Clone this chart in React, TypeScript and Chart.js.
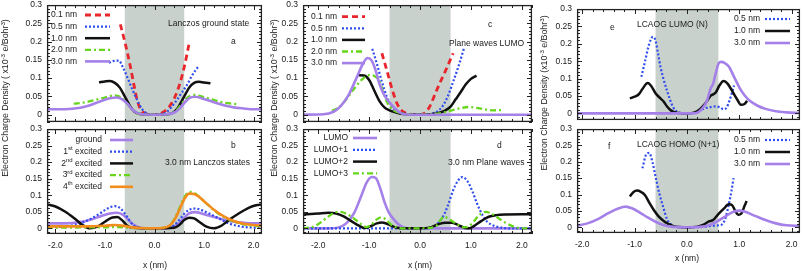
import React, { useEffect, useRef } from "react";
import { Chart, registerables } from "chart.js";
Chart.register(...registerables);

type Pt = [number, number];
const FONT = "'Liberation Sans', Arial, sans-serif";

// ---------- shared axis values ----------
const yTickValues = [0, 0.05, 0.1, 0.15, 0.2, 0.25, 0.3];
const yTickLabels = ["0", "0.05", "0.1", "0.15", "0.2", "0.25", "0.3"];
const xTickValues = [-2, -1, 0, 1, 2];
const xTickLabels = ["-2.0", "-1.0", "0.0", "1.0", "2.0"];
const shadeRange = [-0.6, 0.6];

// ---------- panel a : Lanczos ground state ----------
const aLabels = ["0.1 nm", "0.5 nm", "1.0 nm", "2.0 nm", "3.0 nm"];
const a01: Pt[] = [[-0.69, 0.247], [-0.6, 0.2], [-0.5, 0.14], [-0.42, 0.085], [-0.35, 0.04], [-0.27, 0.012], [-0.15, 0.002], [0, 0], [0.1, 0.002], [0.2, 0.009], [0.3, 0.022], [0.4, 0.045], [0.5, 0.08], [0.6, 0.13], [0.7, 0.196]];
const a05: Pt[] = [[-0.92, 0.142], [-0.82, 0.147], [-0.72, 0.148], [-0.64, 0.13], [-0.55, 0.103], [-0.45, 0.07], [-0.35, 0.04], [-0.25, 0.015], [-0.15, 0.003], [0, 0], [0.15, 0.002], [0.25, 0.008], [0.35, 0.022], [0.45, 0.04], [0.55, 0.06], [0.65, 0.08], [0.75, 0.105], [0.83, 0.122], [0.9, 0.133]];
const a10: Pt[] = [[-1.12, 0.089], [-1.0, 0.091], [-0.9, 0.092], [-0.8, 0.087], [-0.7, 0.074], [-0.6, 0.05], [-0.5, 0.025], [-0.42, 0.01], [-0.3, 0.002], [0, 0], [0.3, 0.002], [0.42, 0.01], [0.5, 0.025], [0.6, 0.05], [0.7, 0.074], [0.8, 0.087], [0.9, 0.09], [1.0, 0.088], [1.13, 0.086]];
const a20: Pt[] = [[-1.63, 0.03], [-1.4, 0.034], [-1.2, 0.04], [-1.0, 0.047], [-0.8, 0.053], [-0.65, 0.045], [-0.55, 0.03], [-0.45, 0.013], [-0.35, 0.004], [-0.2, 0.001], [0, 0], [0.2, 0.001], [0.35, 0.004], [0.45, 0.013], [0.55, 0.03], [0.65, 0.045], [0.8, 0.054], [1.0, 0.048], [1.2, 0.04], [1.4, 0.033], [1.66, 0.029]];
const a30: Pt[] = [[-2.17, 0.015], [-1.8, 0.015], [-1.5, 0.019], [-1.3, 0.026], [-1.1, 0.036], [-0.9, 0.045], [-0.76, 0.047], [-0.65, 0.042], [-0.55, 0.03], [-0.45, 0.014], [-0.35, 0.005], [-0.25, 0.001], [0, 0], [0.25, 0.001], [0.4, 0.006], [0.5, 0.016], [0.6, 0.032], [0.7, 0.045], [0.82, 0.049], [1.0, 0.043], [1.2, 0.034], [1.4, 0.026], [1.6, 0.02], [1.8, 0.017], [2.0, 0.015], [2.17, 0.015]];

// ---------- panel b : 3.0 nm Lanczos states ----------
const bLabels = ["ground", "1^st excited", "2^nd excited", "3^rd excited", "4^th excited"];
const bGround: Pt[] = a30;
const bExc1: Pt[] = [[-2.17, 0.003], [-1.8, 0.006], [-1.5, 0.015], [-1.3, 0.028], [-1.1, 0.045], [-0.95, 0.06], [-0.8, 0.067], [-0.7, 0.062], [-0.6, 0.045], [-0.5, 0.022], [-0.4, 0.007], [-0.3, 0.001], [0, 0], [0.3, 0.002], [0.4, 0.01], [0.5, 0.025], [0.6, 0.044], [0.7, 0.056], [0.82, 0.06], [0.95, 0.055], [1.1, 0.045], [1.3, 0.03], [1.5, 0.015], [1.7, 0.007], [1.9, 0.003], [2.17, 0.001]];
const bExc2: Pt[] = [[-2.17, 0.072], [-2.0, 0.066], [-1.8, 0.05], [-1.6, 0.028], [-1.45, 0.01], [-1.3, 0.0], [-1.15, 0.005], [-1.0, 0.02], [-0.85, 0.033], [-0.75, 0.034], [-0.65, 0.024], [-0.55, 0.008], [-0.45, 0.002], [0, 0], [0.4, 0.002], [0.5, 0.01], [0.6, 0.025], [0.7, 0.032], [0.8, 0.03], [0.9, 0.02], [1.05, 0.005], [1.2, 0.0], [1.35, 0.008], [1.5, 0.025], [1.7, 0.045], [1.9, 0.062], [2.05, 0.07], [2.17, 0.072]];
const bExc3: Pt[] = [[-2.17, 0.002], [-1.8, 0.002], [-1.4, 0.003], [-1.0, 0.003], [-0.8, 0.004], [-0.5, 0.002], [0, 0], [0.3, 0.008], [0.4, 0.028], [0.5, 0.06], [0.6, 0.093], [0.7, 0.11], [0.8, 0.107], [0.9, 0.096], [1.0, 0.082], [1.2, 0.055], [1.4, 0.034], [1.6, 0.02], [1.8, 0.012], [2.0, 0.008], [2.17, 0.006]];
const bExc4: Pt[] = [[-2.17, 0.006], [-1.8, 0.006], [-1.4, 0.006], [-1.0, 0.008], [-0.8, 0.01], [-0.6, 0.007], [-0.45, 0.003], [-0.3, 0.001], [0, 0], [0.15, 0.001], [0.3, 0.008], [0.4, 0.025], [0.5, 0.055], [0.6, 0.088], [0.7, 0.105], [0.8, 0.104], [0.9, 0.095], [1.0, 0.082], [1.2, 0.056], [1.4, 0.036], [1.6, 0.022], [1.8, 0.014], [2.0, 0.01], [2.17, 0.008]];

// ---------- panel c : Plane waves LUMO ----------
const cLabels = ["0.1 nm", "0.5 nm", "1.0 nm", "2.0 nm", "3.0 nm"];
const c01: Pt[] = [[-0.75, 0.168], [-0.65, 0.12], [-0.55, 0.07], [-0.45, 0.03], [-0.35, 0.01], [-0.25, 0.003], [0, 0], [0.1, 0.005], [0.2, 0.025], [0.3, 0.058], [0.4, 0.09], [0.5, 0.12], [0.65, 0.168]];
const c05: Pt[] = [[-0.94, 0.18], [-0.85, 0.14], [-0.75, 0.09], [-0.65, 0.048], [-0.55, 0.022], [-0.45, 0.01], [-0.3, 0.002], [0, 0], [0.2, 0.002], [0.35, 0.01], [0.45, 0.025], [0.55, 0.052], [0.65, 0.09], [0.75, 0.13], [0.86, 0.18]];
const c10: Pt[] = [[-1.21, 0.108], [-1.1, 0.107], [-1.0, 0.095], [-0.9, 0.066], [-0.8, 0.038], [-0.7, 0.02], [-0.6, 0.012], [-0.5, 0.007], [-0.4, 0.003], [-0.2, 0.001], [0, 0], [0.2, 0.001], [0.35, 0.004], [0.5, 0.012], [0.6, 0.022], [0.7, 0.042], [0.8, 0.062], [0.9, 0.083], [1.0, 0.098], [1.11, 0.107]];
const c20: Pt[] = [[-1.73, 0.011], [-1.6, 0.02], [-1.45, 0.042], [-1.3, 0.07], [-1.15, 0.095], [-1.0, 0.108], [-0.9, 0.106], [-0.8, 0.092], [-0.72, 0.06], [-0.65, 0.035], [-0.55, 0.015], [-0.4, 0.005], [-0.2, 0.001], [0, 0], [0.3, 0.002], [0.5, 0.007], [0.65, 0.013], [0.8, 0.018], [0.95, 0.021], [1.1, 0.019], [1.3, 0.014], [1.45, 0.012], [1.63, 0.013]];
const c30: Pt[] = [[-2.3, 0], [-1.9, 0.001], [-1.7, 0.008], [-1.55, 0.025], [-1.4, 0.055], [-1.25, 0.1], [-1.12, 0.14], [-1.03, 0.155], [-0.95, 0.148], [-0.87, 0.12], [-0.8, 0.085], [-0.72, 0.058], [-0.65, 0.042], [-0.58, 0.03], [-0.5, 0.018], [-0.4, 0.006], [-0.3, 0.001], [-0.15, 0], [2.2, 0]];

// ---------- panel d : 3.0 nm Plane waves ----------
const dLabels = ["LUMO", "LUMO+1", "LUMO+2", "LUMO+3"];
const dL0: Pt[] = [[-2.3, 0], [-1.8, 0], [-1.6, 0.003], [-1.45, 0.015], [-1.3, 0.045], [-1.15, 0.1], [-1.05, 0.138], [-0.95, 0.155], [-0.87, 0.152], [-0.78, 0.12], [-0.7, 0.08], [-0.62, 0.05], [-0.52, 0.028], [-0.42, 0.012], [-0.32, 0.003], [-0.2, 0], [2.2, 0]];
const dL1: Pt[] = [[-2.3, 0], [0.1, 0], [0.25, 0.004], [0.35, 0.015], [0.45, 0.035], [0.55, 0.07], [0.65, 0.115], [0.75, 0.145], [0.83, 0.155], [0.92, 0.145], [1.02, 0.115], [1.12, 0.075], [1.22, 0.042], [1.32, 0.02], [1.45, 0.008], [1.6, 0.002], [1.8, 0], [2.2, 0]];
const dL2: Pt[] = [[-2.3, 0.042], [-2.0, 0.045], [-1.8, 0.047], [-1.65, 0.045], [-1.5, 0.036], [-1.35, 0.022], [-1.2, 0.008], [-1.08, 0.001], [-0.98, 0.006], [-0.85, 0.015], [-0.75, 0.018], [-0.65, 0.014], [-0.55, 0.007], [-0.45, 0.002], [-0.3, 0], [0, 0], [0.2, 0.003], [0.35, 0.012], [0.5, 0.017], [0.62, 0.017], [0.75, 0.01], [0.87, 0.002], [0.97, 0], [1.05, 0.006], [1.2, 0.022], [1.35, 0.035], [1.5, 0.04], [1.7, 0.042], [2.0, 0.043], [2.2, 0.043]];
const dL3: Pt[] = [[-2.3, 0], [-2.1, 0.005], [-1.95, 0.018], [-1.8, 0.036], [-1.65, 0.049], [-1.55, 0.05], [-1.45, 0.044], [-1.3, 0.03], [-1.15, 0.012], [-1.05, 0.004], [-0.95, 0.012], [-0.85, 0.027], [-0.76, 0.033], [-0.68, 0.028], [-0.58, 0.013], [-0.48, 0.004], [-0.3, 0], [0, 0], [0.3, 0.005], [0.4, 0.025], [0.47, 0.035], [0.55, 0.03], [0.65, 0.02], [0.75, 0.01], [0.85, 0.003], [0.95, 0.005], [1.05, 0.02], [1.15, 0.038], [1.28, 0.05], [1.4, 0.045], [1.55, 0.03], [1.7, 0.015], [1.85, 0.005], [2.0, 0], [2.2, 0]];

// ---------- panel e : LCAOG LUMO (N) ----------
const eLabels = ["0.5 nm", "1.0 nm", "3.0 nm"];
const e05: Pt[] = [[-0.87, 0.105], [-0.8, 0.15], [-0.72, 0.2], [-0.65, 0.22], [-0.6, 0.21], [-0.55, 0.17], [-0.5, 0.13], [-0.45, 0.1], [-0.38, 0.065], [-0.3, 0.03], [-0.22, 0.008], [-0.1, 0.001], [0, 0], [0.15, 0.002], [0.25, 0.008], [0.35, 0.015], [0.45, 0.018], [0.55, 0.02], [0.62, 0.018], [0.7, 0.012], [0.75, 0.015], [0.82, 0.04], [0.9, 0.08]];
const e10: Pt[] = [[-1.09, 0.043], [-1.0, 0.048], [-0.92, 0.055], [-0.85, 0.07], [-0.75, 0.087], [-0.68, 0.078], [-0.6, 0.058], [-0.52, 0.045], [-0.45, 0.035], [-0.38, 0.02], [-0.3, 0.008], [-0.2, 0.002], [0, 0], [0.15, 0.003], [0.25, 0.012], [0.35, 0.028], [0.45, 0.05], [0.55, 0.06], [0.62, 0.08], [0.7, 0.093], [0.78, 0.085], [0.88, 0.06], [0.96, 0.04], [1.03, 0.025], [1.1, 0.027], [1.15, 0.036]];
const e30: Pt[] = [[-2.1, 0], [0.1, 0], [0.2, 0.002], [0.3, 0.015], [0.38, 0.035], [0.45, 0.07], [0.5, 0.085], [0.55, 0.115], [0.6, 0.142], [0.65, 0.148], [0.72, 0.145], [0.8, 0.135], [0.9, 0.105], [1.0, 0.075], [1.1, 0.052], [1.2, 0.036], [1.35, 0.022], [1.5, 0.013], [1.7, 0.006], [1.9, 0.003], [2.16, 0.001]];

// ---------- panel f : LCAOG HOMO (N+1) ----------
const fLabels = ["0.5 nm", "1.0 nm", "3.0 nm"];
const f05: Pt[] = [[-0.85, 0.18], [-0.78, 0.222], [-0.72, 0.227], [-0.66, 0.2], [-0.6, 0.155], [-0.53, 0.105], [-0.45, 0.06], [-0.38, 0.025], [-0.3, 0.008], [-0.2, 0.001], [0, 0], [0.3, 0.001], [0.45, 0.004], [0.6, 0.006], [0.68, 0.01], [0.74, 0.03], [0.8, 0.07], [0.85, 0.11], [0.89, 0.15]];
const f10: Pt[] = [[-1.09, 0.094], [-1.02, 0.108], [-0.95, 0.112], [-0.88, 0.108], [-0.8, 0.098], [-0.72, 0.075], [-0.63, 0.052], [-0.55, 0.035], [-0.45, 0.02], [-0.35, 0.01], [-0.25, 0.003], [0, 0], [0.2, 0.002], [0.32, 0.008], [0.42, 0.018], [0.5, 0.022], [0.6, 0.04], [0.7, 0.056], [0.8, 0.07], [0.86, 0.068], [0.93, 0.048], [0.98, 0.038], [1.04, 0.042], [1.1, 0.065], [1.14, 0.08]];
const f30: Pt[] = [[-2.1, 0.005], [-1.9, 0.012], [-1.7, 0.025], [-1.5, 0.043], [-1.3, 0.058], [-1.17, 0.063], [-1.05, 0.058], [-0.9, 0.045], [-0.75, 0.03], [-0.6, 0.017], [-0.45, 0.007], [-0.3, 0.002], [0, 0], [0.3, 0.002], [0.45, 0.008], [0.6, 0.02], [0.75, 0.035], [0.9, 0.048], [1.0, 0.051], [1.1, 0.048], [1.3, 0.035], [1.5, 0.022], [1.7, 0.012], [1.9, 0.006], [2.16, 0.004]];

// ---------- styles ----------
interface Sty { color: string; width: number; dash: number[] }
const S: Record<string, Sty> = {
  red: { color: "#e8262b", width: 2.8, dash: [6, 4] },
  blue: { color: "#2f4cec", width: 2.2, dash: [2, 2] },
  black: { color: "#111111", width: 2.5, dash: [] },
  green: { color: "#66d61a", width: 2.3, dash: [6, 3, 2, 3] },
  purple: { color: "#a580e8", width: 2.6, dash: [] },
  orange: { color: "#f28c1c", width: 2.6, dash: [] },
};
const SHADE = "#c9d1cd";
const TEXT = "#1a1a1a";

interface Series { label: string; pts: Pt[]; sty: Sty }
interface Note { t: string; x: number; y: number }
interface PanelCfg {
  L: number; R: number; T: number; B: number;
  xMin: number; xMax: number; yMin: number; xLabels: boolean;
  series: Series[];
  legend: { textRight: number; x1: number; x2: number; y0: number; dy: number };
  notes: Note[];
}

function mk(labels: string[], pts: Pt[][], stys: Sty[]): Series[] {
  return labels.map((l, i) => ({ label: l, pts: pts[i], sty: stys[i] }));
}

const panels: PanelCfg[] = [
  {
    L: 47, R: 262, T: 5, B: 122, xMin: -2.17, xMax: 2.17, yMin: -0.02, xLabels: false,
    series: mk(aLabels, [a01, a05, a10, a20, a30], [S.red, S.blue, S.black, S.green, S.purple]),
    legend: { textRight: 77, x1: 85, x2: 110, y0: 15, dy: 11.6 },
    notes: [{ t: "Lanczos ground state", x: 168, y: 23.5 }, { t: "a", x: 231, y: 42 }],
  },
  {
    L: 47, R: 262, T: 129, B: 234, xMin: -2.17, xMax: 2.17, yMin: -0.017, xLabels: true,
    series: mk(bLabels, [bGround, bExc1, bExc2, bExc3, bExc4], [S.purple, S.blue, S.black, S.green, S.orange]),
    legend: { textRight: 102, x1: 110, x2: 133, y0: 140, dy: 11.7 },
    notes: [{ t: "b", x: 231, y: 146 }, { t: "3.0 nm Lanczos states", x: 165, y: 163 }],
  },
  {
    L: 303, R: 532, T: 5, B: 122, xMin: -2.3, xMax: 2.2, yMin: -0.02, xLabels: false,
    series: mk(cLabels, [c01, c05, c10, c20, c30], [S.red, S.blue, S.black, S.green, S.purple]),
    legend: { textRight: 337, x1: 342, x2: 365, y0: 16.7, dy: 11.6 },
    notes: [{ t: "c", x: 488, y: 25 }, { t: "Plane waves LUMO", x: 449, y: 43.5 }],
  },
  {
    L: 303, R: 532, T: 129, B: 234, xMin: -2.3, xMax: 2.2, yMin: -0.017, xLabels: true,
    series: mk(dLabels, [dL0, dL1, dL2, dL3], [S.purple, S.blue, S.black, S.green]),
    legend: { textRight: 348, x1: 353, x2: 377, y0: 138, dy: 11.8 },
    notes: [{ t: "d", x: 497, y: 146 }, { t: "3.0 nm Plane waves", x: 448, y: 163 }],
  },
  {
    L: 577, R: 800, T: 9, B: 120, xMin: -2.1, xMax: 2.16, yMin: -0.019, xLabels: false,
    series: mk(eLabels, [e05, e10, e30], [S.blue, S.black, S.purple]),
    legend: { textRight: 760, x1: 765, x2: 790, y0: 19, dy: 12 },
    notes: [{ t: "e", x: 610, y: 28 }, { t: "LCAOG LUMO (N)", x: 637, y: 25 }],
  },
  {
    L: 577, R: 800, T: 129, B: 233, xMin: -2.1, xMax: 2.16, yMin: -0.0174, xLabels: true,
    series: mk(fLabels, [f05, f10, f30], [S.blue, S.black, S.purple]),
    legend: { textRight: 760, x1: 765, x2: 790, y0: 140, dy: 12 },
    notes: [{ t: "f", x: 608, y: 147 }, { t: "LCAOG HOMO (N+1)", x: 637, y: 145 }],
  },
];

const FS = 8.5;

function drawRich(ctx: CanvasRenderingContext2D, label: string, right: number, y: number) {
  const parts = label.split(/\^(\S+)/);
  const normal = `${FS}px ${FONT}`;
  const sup = `6px ${FONT}`;
  let total = 0;
  parts.forEach((p, i) => {
    ctx.font = i % 2 ? sup : normal;
    total += ctx.measureText(p).width;
  });
  let x = right - total;
  ctx.textAlign = "left";
  parts.forEach((p, i) => {
    ctx.font = i % 2 ? sup : normal;
    ctx.fillText(p, x, i % 2 ? y - 3 : y);
    x += ctx.measureText(p).width;
  });
}

function makeDeco(cfg: PanelCfg, cl: number, ct: number) {
  return {
    id: "deco",
    beforeDatasetsDraw(chart: any) {
      const { ctx, chartArea: ca } = chart;
      const x = chart.scales.x;
      const x1 = x.getPixelForValue(shadeRange[0]);
      const x2 = x.getPixelForValue(shadeRange[1]);
      ctx.save();
      ctx.fillStyle = SHADE;
      ctx.fillRect(x1, ca.top, x2 - x1, ca.bottom - ca.top);
      ctx.restore();
    },
    afterDatasetsDraw(chart: any) {
      const { ctx, chartArea: ca } = chart;
      const x = chart.scales.x, y = chart.scales.y;
      ctx.save();
      ctx.strokeStyle = "#222";
      ctx.lineWidth = 1;
      ctx.setLineDash([]);
      ctx.beginPath();
      for (let k = Math.ceil(cfg.xMin / 0.2 - 1e-9); k * 0.2 <= cfg.xMax + 1e-9; k++) {
        const v = k * 0.2;
        const major = Math.abs(v - Math.round(v)) < 1e-6;
        const len = major ? 5 : 3;
        const px = Math.round(x.getPixelForValue(v)) + 0.5;
        ctx.moveTo(px, ca.bottom); ctx.lineTo(px, ca.bottom - len);
        ctx.moveTo(px, ca.top); ctx.lineTo(px, ca.top + len);
      }
      for (let k = -2; k <= 30; k++) {
        const v = k * 0.01;
        if (v < cfg.yMin) continue;
        const len = k % 5 === 0 ? 5 : 3;
        const py = Math.round(y.getPixelForValue(v)) + 0.5;
        ctx.moveTo(ca.left, py); ctx.lineTo(ca.left + len, py);
        ctx.moveTo(ca.right, py); ctx.lineTo(ca.right - len, py);
      }
      ctx.stroke();
      ctx.lineWidth = 1.3;
      ctx.strokeRect(ca.left + 0.6, ca.top + 0.6, ca.right - ca.left - 1.2, ca.bottom - ca.top - 1.2);
      ctx.restore();
    },
    afterDraw(chart: any) {
      const ctx: CanvasRenderingContext2D = chart.ctx;
      ctx.save();
      ctx.fillStyle = TEXT;
      ctx.textBaseline = "middle";
      const lg = cfg.legend;
      cfg.series.forEach((s, i) => {
        const yy = lg.y0 + i * lg.dy - ct;
        ctx.fillStyle = TEXT;
        drawRich(ctx, s.label, lg.textRight - cl, yy);
        ctx.strokeStyle = s.sty.color;
        ctx.lineWidth = s.sty.width;
        ctx.setLineDash(s.sty.dash);
        ctx.beginPath();
        ctx.moveTo(lg.x1 - cl, yy);
        ctx.lineTo(lg.x2 - cl, yy);
        ctx.stroke();
      });
      ctx.setLineDash([]);
      ctx.font = `${FS}px ${FONT}`;
      ctx.textAlign = "left";
      ctx.fillStyle = TEXT;
      cfg.notes.forEach((n) => ctx.fillText(n.t, n.x - cl, n.y - ct));
      ctx.restore();
    },
  };
}

function Panel({ cfg }: { cfg: PanelCfg }) {
  const ref = useRef<HTMLCanvasElement>(null);
  const cl = cfg.L - 45;
  const ct = Math.max(0, cfg.T - 5);
  const cr = cfg.R + 2;
  const cb = cfg.B + (cfg.xLabels ? 24 : 3);
  const w = cr - cl, h = cb - ct;
  useEffect(() => {
    const datasets = cfg.series
      .map((s) => ({
        label: s.label,
        data: s.pts.map(([x, y]) => ({ x, y })),
        borderColor: s.sty.color,
        borderWidth: s.sty.width,
        borderDash: s.sty.dash,
        pointRadius: 0,
        fill: false,
        cubicInterpolationMode: "monotone" as const,
        borderCapStyle: "butt" as const,
      }))
      .reverse();
    const chart = new Chart(ref.current!, {
      type: "line",
      data: { datasets },
      options: {
        animation: false,
        responsive: false,
        maintainAspectRatio: false,
        devicePixelRatio: 1,
        layout: { padding: { top: cfg.T - ct, right: cr - cfg.R, left: 0, bottom: 0 } },
        plugins: { legend: { display: false }, tooltip: { enabled: false } },
        scales: {
          x: {
            type: "linear",
            min: cfg.xMin,
            max: cfg.xMax,
            grid: { display: false, drawTicks: false },
            border: { display: false },
            ticks: {
              display: cfg.xLabels,
              color: TEXT,
              font: { family: FONT, size: FS },
              padding: 7,
              maxRotation: 0,
              autoSkip: false,
              callback: (_v: any, i: number) => xTickLabels[i],
            },
            afterBuildTicks: (s: any) => { s.ticks = xTickValues.map((v) => ({ value: v })); },
            afterFit: (s: any) => { s.height = cb - cfg.B; s.paddingLeft = 0; s.paddingRight = 0; },
          },
          y: {
            type: "linear",
            min: cfg.yMin,
            max: 0.3,
            grid: { display: false, drawTicks: false },
            border: { display: false },
            ticks: {
              color: TEXT,
              font: { family: FONT, size: FS },
              padding: 5,
              autoSkip: false,
              callback: (_v: any, i: number) => yTickLabels[i],
            },
            afterBuildTicks: (s: any) => { s.ticks = yTickValues.map((v) => ({ value: v })); },
            afterFit: (s: any) => { s.width = cfg.L - cl; s.paddingTop = 0; s.paddingBottom = 0; },
          },
        },
      },
      plugins: [makeDeco(cfg, cl, ct)],
    } as any);
    return () => chart.destroy();
  }, []);
  return (
    <canvas
      ref={ref}
      width={w}
      height={h}
      style={{ position: "absolute", left: cl, top: ct, width: w, height: h }}
    />
  );
}

const supStyle: React.CSSProperties = { fontSize: "0.7em", verticalAlign: "0.45em", lineHeight: 0 };

function YTitle({ cx, cy, space }: { cx: number; cy: number; space: boolean }) {
  const W = 240;
  return (
    <div
      style={{
        position: "absolute", left: cx - W / 2, top: cy - 6, width: W, height: 12, lineHeight: "12px",
        fontSize: 8.8, fontFamily: FONT, color: TEXT, textAlign: "center", whiteSpace: "nowrap",
        transform: "rotate(-90deg)", transformOrigin: "center center",
      }}
    >
      Electron Charge Density ({space ? " " : ""}x10<sup style={supStyle}>-3</sup> e/Bohr<sup style={supStyle}>3</sup>)
    </div>
  );
}

function XTitle({ cx, cy }: { cx: number; cy: number }) {
  return (
    <div
      style={{
        position: "absolute", left: cx - 40, top: cy - 6, width: 80, height: 12, lineHeight: "12px",
        fontSize: FS, fontFamily: FONT, color: TEXT, textAlign: "center", whiteSpace: "nowrap",
      }}
    >
      x (nm)
    </div>
  );
}

export default function App() {
  return (
    <div style={{ position: "fixed", left: 0, top: 0, width: 802, height: 271, background: "#fff", overflow: "hidden" }}>
      {panels.map((p, i) => <Panel key={i} cfg={p} />)}
      <YTitle cx={5} cy={97.5} space={true} />
      <YTitle cx={274} cy={97.5} space={true} />
      <YTitle cx={544} cy={93} space={false} />
      <XTitle cx={155} cy={265} />
      <XTitle cx={420} cy={265} />
      <XTitle cx={687} cy={257.7} />
    </div>
  );
}
